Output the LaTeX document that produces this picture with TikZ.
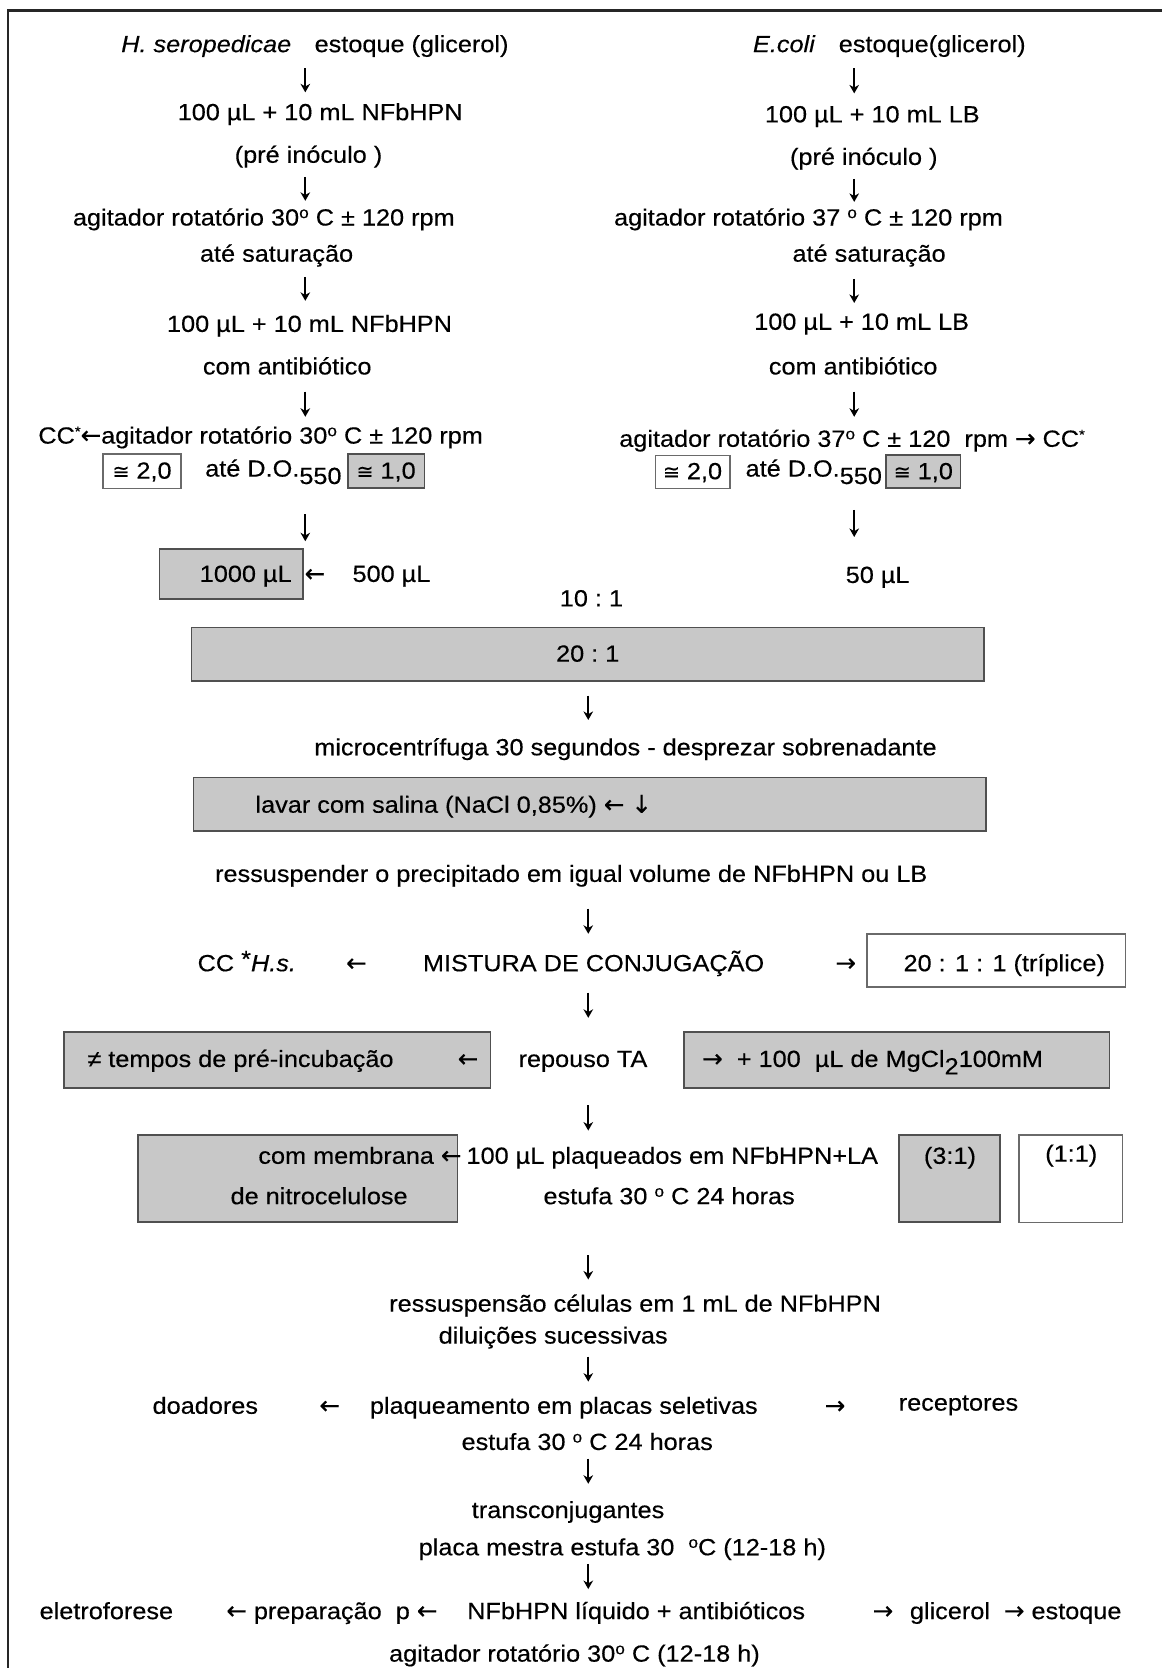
\documentclass[tikz,border=0pt]{standalone}
\usepackage{fontspec}
\setmainfont[FakeStretch=1.08,FakeBold=0.35]{Liberation Sans}
\newfontfamily\symf[FakeBold=0.4]{DejaVu Sans}
\usetikzlibrary{arrows.meta}
\definecolor{boxgray}{RGB}{200,200,200}
\definecolor{boxline}{RGB}{80,80,80}
\newcommand{\fsz}{\fontsize{22}{26}\selectfont}
\newcommand{\degsym}{\raisebox{7pt}{\fontsize{15}{15}\selectfont o}}
\newcommand{\lowr}[1]{\raisebox{-7pt}{#1}}
\newcommand{\aprx}{{\symf\fontsize{19}{19}\selectfont ≅}}
\newcommand{\ccs}{CC\raisebox{7pt}{\fontsize{13}{13}\selectfont *}}
\newcommand{\lar}{{\symf\fontsize{23}{23}\selectfont ←}}
\newcommand{\rar}{{\symf\fontsize{23}{23}\selectfont →}}
\newcommand{\dar}{{\symf\fontsize{23}{23}\selectfont ↓}}
\begin{document}
\begin{tikzpicture}[x=1pt,y=-1pt,
  tx/.style={inner sep=0pt, text height=19pt, text depth=5pt, font=\fsz},
  gbox/.style={draw=boxline, fill=boxgray, line width=1.6pt, inner sep=0pt},
  wbox/.style={draw=boxline!85, fill=white, line width=1.4pt, inner sep=0pt},
  varr/.style={line width=1.8pt, -{Stealth[length=8pt,width=9pt,inset=2.5pt]}},
  frame/.style={line width=2.2pt, black!85}]
\useasboundingbox (0,0) rectangle (1092,1568);
% frame
\draw[frame] (7.5,1568) -- (7.5,10) -- (1092,10);

% ---------- boxes ----------
\node[wbox, minimum width=73pt, minimum height=32pt] (lw2) at (133.5,443) {};
\node[gbox, minimum width=72pt, minimum height=32pt] (lg1) at (363,443) {};
\node[wbox, minimum width=70pt, minimum height=31pt] (rw2) at (651,443.5) {};
\node[gbox, minimum width=70pt, minimum height=31pt] (rg1) at (868,443.5) {};
\node[gbox, minimum width=135pt, minimum height=47pt] (b1000) at (217.5,539.5) {};
\node[gbox, minimum width=745pt, minimum height=50pt] (b20) at (552.5,615) {};
\node[gbox, minimum width=745pt, minimum height=50pt] (blav) at (554.5,756) {};
\node[wbox, minimum width=243pt, minimum height=50pt] (btrip) at (936.5,903) {};
\node[gbox, minimum width=401pt, minimum height=53pt] (bpre) at (260.5,996.5) {};
\node[gbox, minimum width=400pt, minimum height=53pt] (bmg) at (843,996.5) {};
\node[gbox, minimum width=300pt, minimum height=82pt] (bmem) at (280,1108) {};
\node[gbox, minimum width=95pt, minimum height=82pt] (b31) at (892.5,1108) {};
\node[wbox, minimum width=97pt, minimum height=82pt] (b11) at (1006.5,1108) {};

% ---------- left column ----------
\node[tx] (hs) at (296,42) {\textit{H. seropedicae}\quad estoque (glicerol)};
\node[tx] (l100a) at (301,106) {100 µL + 10 mL NFbHPN};
\node[tx] (lpre) at (290,146) {(pré inóculo~)};
\node[tx] (lagit1) at (248,205) {agitador rotatório 30\degsym{} C ± 120 rpm};
\node[tx] (lsat) at (260,239) {até saturação};
\node[tx] (l100b) at (291,305) {100 µL + 10 mL NFbHPN};
\node[tx] (lanti) at (270,345) {com antibiótico};
\node[tx] (lagit2) at (245,410) {\ccs{}\lar{}agitador rotatório 30\degsym{} C ± 120 rpm};
\node[tx] (l20) at (lw2) {\aprx{} 2,0};
\node[tx] (ldo) at (257,441) {até D.O.\lowr{550}};
\node[tx] (l10) at (lg1) {\aprx{} 1,0};
\node[tx] (l1000) at (231,540) {1000 µL};
\node[tx] (larr) at (296,540) {\lar};
\node[tx] (l500) at (368,540) {500 µL};

% ---------- right column ----------
\node[tx] (ec) at (836,42) {\textit{E.coli}\quad estoque(glicerol)};
\node[tx] (r100a) at (820,108) {100 µL + 10 mL LB};
\node[tx] (rpre) at (812,148) {(pré inóculo~)};
\node[tx] (ragit1) at (760,205) {agitador rotatório 37 \degsym{} C ± 120 rpm};
\node[tx] (rsat) at (817,239) {até saturação};
\node[tx] (r100b) at (810,303) {100 µL + 10 mL LB};
\node[tx] (ranti) at (802,345) {com antibiótico};
\node[tx] (ragit2) at (801,413) {agitador rotatório 37\degsym{} C ± 120~~rpm \rar{} \ccs};
\node[tx] (r20) at (rw2) {\aprx{} 2,0};
\node[tx] (rdo) at (765,441) {até D.O.\lowr{550}};
\node[tx] (r10) at (rg1) {\aprx{} 1,0};
\node[tx] (r50) at (825,541) {50 µL};

% ---------- centre ----------
\node[tx] (ratio10) at (556,563) {10~:~1};
\node[tx] (ratio20) at (b20) {20~:~1};
\node[tx] (micro) at (588,703) {microcentrífuga 30 segundos - desprezar sobrenadante};
\node[tx, anchor=west] (lav) at (240,757) {lavar com salina (NaCl 0,85\%) \lar{} \dar};
\node[tx] (ress) at (537,822) {ressuspender o precipitado em igual volume de NFbHPN ou LB};
\node[tx] (cchs) at (232,906) {CC \raisebox{4pt}{*}\textit{H.s.}};
\node[tx] (ma1) at (335,906) {\lar};
\node[tx] (mist) at (558,906) {MISTURA DE CONJUGAÇÃO};
\node[tx] (ma2) at (795,906) {\rar};
\node[tx] (trip) at (944,906) {20 : 1 : 1 (tríplice)};
\node[tx, anchor=west] (tempos) at (82,996) {≠ tempos de pré-incubação};
\node[tx] (ra1) at (440,996) {\lar};
\node[tx] (repouso) at (548,996) {repouso TA};
\node[tx, anchor=west] (mg) at (660,996) {\rar~~+ 100~~µL de MgCl\lowr{2}100mM};
\node[tx, anchor=east] (mem1) at (434,1087) {com membrana \lar};
\node[tx] (mem2) at (300,1125) {de nitrocelulose};
\node[tx] (plaq) at (632,1087) {100 µL plaqueados em NFbHPN+LA};
\node[tx] (est1) at (629,1125) {estufa 30 \degsym{} C 24 horas};
\node[tx] (t31) at (893,1087) {(3:1)};
\node[tx] (t11) at (1007,1085) {(1:1)};
\node[tx] (ress2) at (597,1226) {ressuspensão células em 1 mL de NFbHPN};
\node[tx] (dil) at (520,1256) {diluições sucessivas};
\node[tx] (doad) at (193,1322) {doadores};
\node[tx] (pa1) at (310,1322) {\lar};
\node[tx] (plaq2) at (530,1322) {plaqueamento em placas seletivas};
\node[tx] (pa2) at (785,1322) {\rar};
\node[tx] (recep) at (901,1319) {receptores};
\node[tx] (est2) at (552,1356) {estufa 30 \degsym{} C 24 horas};
\node[tx] (trans) at (534,1420) {transconjugantes};
\node[tx] (placa) at (585,1455) {placa mestra estufa 30~~\degsym{}C (12-18 h)};
\node[tx] (eletro) at (100,1515) {eletroforese};
\node[tx] (prep) at (312,1515) {\lar{} preparação~~p \lar};
\node[tx] (nfb) at (598,1515) {NFbHPN líquido + antibióticos};
\node[tx] (ba1) at (830,1515) {\rar};
\node[tx] (glic) at (893,1515) {glicerol};
\node[tx] (estq) at (999,1515) {\rar{} estoque};
\node[tx] (agit3) at (540,1555) {agitador rotatório 30\degsym{} C (12-18 h)};

% ---------- vertical connectors ----------
\coordinate (xl) at (287,0);
\coordinate (xr) at (803,0);
\coordinate (xc) at (553,0);
\draw[varr, shorten <=10pt, shorten >=7pt] (xl |- hs.south) -- (xl |- l100a.north);
\draw[varr, shorten <=8pt, shorten >=4pt] (xl |- lpre.south) -- (xl |- lagit1.north);
\draw[varr, shorten <=9pt, shorten >=10pt] (xl |- lsat.south) -- (xl |- l100b.north);
\draw[varr, shorten <=11pt, shorten >=6pt] (xl |- lanti.south) -- (xl |- lagit2.north);
\draw[varr, shorten <=30pt, shorten >=19pt] (xl |- ldo.south) -- (xl |- l500.north);

\draw[varr, shorten <=10pt, shorten >=8pt] (xr |- ec.south) -- (xr |- r100a.north);
\draw[varr, shorten <=8pt, shorten >=3pt] (xr |- rpre.south) -- (xr |- ragit1.north);
\draw[varr, shorten <=11pt, shorten >=6pt] (xr |- rsat.south) -- (xr |- r100b.north);
\draw[varr, shorten <=11pt, shorten >=9pt] (xr |- ranti.south) -- (xr |- ragit2.north);
\draw[varr, shorten <=26pt, shorten >=24pt] (xr |- rdo.south) -- (xr |- r50.north);

\draw[varr, shorten <=13pt, shorten >=14pt] (xc |- b20.south) -- (xc |- micro.north);
\draw[varr, shorten <=20pt, shorten >=16pt] (xc |- ress.south) -- (xc |- mist.north);
\draw[varr, shorten <=15pt, shorten >=27pt] (xc |- mist.south) -- (xc |- repouso.north);
\draw[varr, shorten <=31pt, shorten >=12pt] (xc |- repouso.south) -- (xc |- plaq.north);
\draw[varr, shorten <=43pt, shorten >=11pt] (xc |- est1.south) -- (xc |- ress2.north);
\draw[varr, shorten <=7pt, shorten >=11pt] (xc |- dil.south) -- (xc |- plaq2.north);
\draw[varr, shorten <=3pt, shorten >=13pt] (xc |- est2.south) -- (xc |- trans.north);
\draw[varr, shorten <=3pt, shorten >=9pt] (xc |- placa.south) -- (xc |- nfb.north);
\end{tikzpicture}
\end{document}
